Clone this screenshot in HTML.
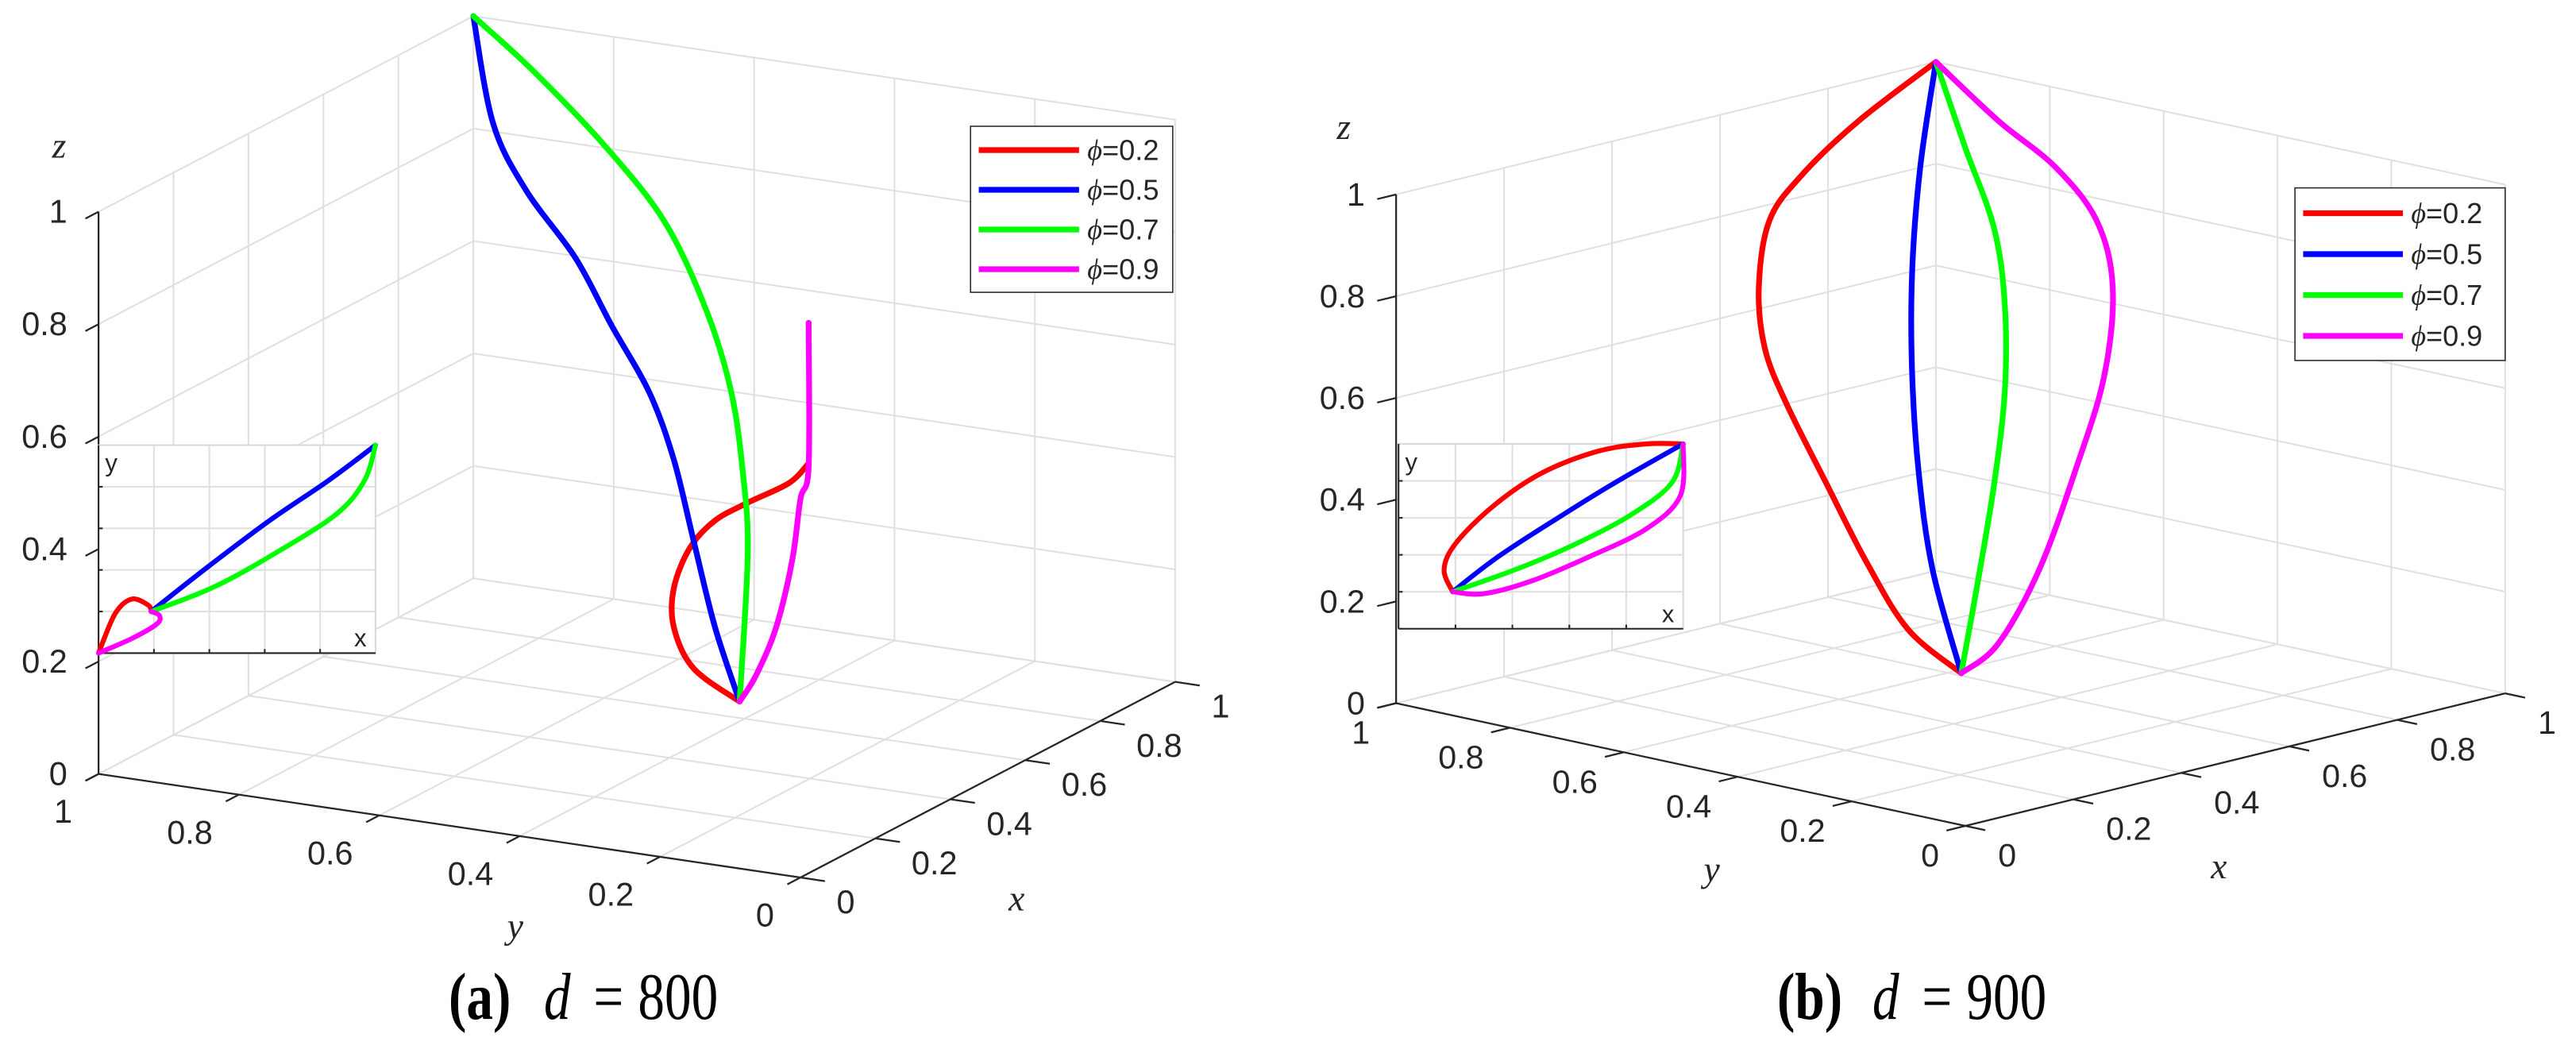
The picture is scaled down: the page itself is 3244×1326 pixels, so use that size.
<!DOCTYPE html>
<html><head><meta charset="utf-8"><style>
html,body{margin:0;padding:0;background:#fff}
svg{display:block}
text{font-family:"Liberation Sans",sans-serif;fill:#262626}
</style></head><body>
<svg id="fig" width="3244" height="1326" viewBox="0 0 3244 1326" xmlns="http://www.w3.org/2000/svg"></svg>
<script>
// ---------- data ----------
const tickVals=[0,0.2,0.4,0.6,0.8,1];
const tickLabels=["0","0.2","0.4","0.6","0.8","1"];
const seriesNames=["\u03d5=0.2","\u03d5=0.5","\u03d5=0.7","\u03d5=0.9"];
const seriesColors=["#ff0000","#0000ff","#00ff00","#ff00ff"];
// panel (a) d=800  3D curves
const aRedX=[-0.025,0.035,0.161,0.261,0.337,0.387,0.387,0.327,0.186];
const aRedY=[-0.025,0.035,0.161,0.261,0.337,0.387,0.387,0.327,0.186];
const aRedZ=[0.75,0.683,0.581,0.496,0.408,0.309,0.239,0.198,0.214];
const aBlueX=[1,0.94,0.839,0.688,0.578,0.462,0.387,0.327,0.261,0.186];
const aBlueY=[1,0.94,0.839,0.688,0.578,0.462,0.387,0.327,0.261,0.186];
const aBlueZ=[1,0.842,0.776,0.736,0.675,0.617,0.537,0.426,0.306,0.214];
const aGreenX=[1,0.814,0.588,0.412,0.286,0.211,0.176,0.161,0.186];
const aGreenY=[1,0.814,0.588,0.412,0.286,0.211,0.176,0.161,0.186];
const aGreenZ=[1,1.0,0.982,0.944,0.854,0.75,0.626,0.49,0.214];
const aMagX=[-0.025,-0.025,0,0.025,0.075,0.136,0.186];
const aMagY=[-0.025,-0.025,0,0.025,0.075,0.136,0.186];
const aMagZ=[1,0.744,0.673,0.551,0.404,0.287,0.214];
// panel (b) d=900 3D curves
const bRedX=[1,0.847,0.718,0.623,0.517,0.435,0.375,0.295,0.216,0.156,0.14];
const bRedY=[1,0.99,0.968,0.935,0.853,0.765,0.671,0.525,0.378,0.248,0.14];
const bRedZ=[1,0.927,0.859,0.802,0.718,0.642,0.573,0.472,0.37,0.285,0.23];
const bBlueX=[1,0.835,0.681,0.537,0.396,0.264,0.14];
const bBlueY=[1,0.871,0.739,0.603,0.458,0.308,0.14];
const bBlueZ=[1,0.868,0.74,0.615,0.487,0.361,0.23];
const bGreenX=[1,0.903,0.813,0.715,0.589,0.444,0.284,0.14];
const bGreenY=[1,0.857,0.721,0.609,0.489,0.37,0.248,0.14];
const bGreenZ=[1,0.893,0.791,0.697,0.587,0.47,0.342,0.23];
const bMagX=[1,0.971,0.954,0.914,0.832,0.696,0.537,0.358,0.214,0.14];
const bMagY=[1,0.863,0.746,0.636,0.53,0.416,0.315,0.21,0.146,0.14];
const bMagZ=[1,0.925,0.866,0.798,0.714,0.603,0.486,0.359,0.266,0.23];
// insets (normalized x,y)
const aInRedX=[0,0.06,0.12,0.18,0.19];
const aInRedY=[0,0.19,0.26,0.23,0.2];
const aInBlueX=[0.19,0.39,0.62,0.83,1];
const aInBlueY=[0.2,0.41,0.64,0.83,1];
const aInGreenX=[0.19,0.42,0.65,0.86,0.96,1];
const aInGreenY=[0.2,0.32,0.49,0.67,0.83,1];
const aInMagX=[0,0.12,0.21,0.22,0.19];
const aInMagY=[0,0.07,0.14,0.18,0.2];
const bInRedX=[0.19,0.16,0.2,0.33,0.5,0.7,0.87,1];
const bInRedY=[0.2,0.32,0.46,0.66,0.84,0.96,1,1];
const bInBlueX=[0.19,0.35,0.55,0.76,1];
const bInBlueY=[0.2,0.39,0.59,0.79,1];
const bInGreenX=[0.19,0.41,0.61,0.81,0.96,1];
const bInGreenY=[0.2,0.32,0.45,0.61,0.79,1];
const bInMagX=[0.19,0.3,0.47,0.67,0.87,0.99,1];
const bInMagY=[0.2,0.19,0.26,0.39,0.54,0.72,1];

// ---------- drawing ----------
const NS="http://www.w3.org/2000/svg";
const svg=document.getElementById('fig');
function mk(tag,attrs,parent){const e=document.createElementNS(NS,tag);for(const k in attrs)e.setAttribute(k,attrs[k]);(parent||svg).appendChild(e);return e;}
function smoothPath(pts){
  let d="M"+pts[0][0].toFixed(1)+","+pts[0][1].toFixed(1);
  for(let i=0;i<pts.length-1;i++){
    const p0=pts[Math.max(0,i-1)],p1=pts[i],p2=pts[i+1],p3=pts[Math.min(pts.length-1,i+2)];
    const c1=[p1[0]+(p2[0]-p0[0])/6,p1[1]+(p2[1]-p0[1])/6];
    const c2=[p2[0]-(p3[0]-p1[0])/6,p2[1]-(p3[1]-p1[1])/6];
    d+=" C"+c1[0].toFixed(1)+","+c1[1].toFixed(1)+" "+c2[0].toFixed(1)+","+c2[1].toFixed(1)+" "+p2[0].toFixed(1)+","+p2[1].toFixed(1);
  }
  return d;
}

function drawPanel(P){
  const g=mk('g',{transform:P.transform});
  
  
  const pr=(x,y,z)=>[P.ox+x*P.ex[0]+y*P.ey[0], P.oy+x*P.ex[1]+y*P.ey[1]+z*P.ez];
  const line=(a,b,attrs,name)=>{const p=pr(...a),q=pr(...b);const l=mk('line',Object.assign({x1:p[0],y1:p[1],x2:q[0],y2:q[1]},attrs),g);return l;};
  const grid={stroke:'#e0e0e0','stroke-width':2};
  tickVals.forEach(v=>{
    line([v,0,0],[v,1,0],grid,'floor-gridline');
    line([0,v,0],[1,v,0],grid,'floor-gridline');
    line([v,1,0],[v,1,1],grid,'wall-gridline');
    line([0,1,v],[1,1,v],grid,'wall-gridline');
    line([1,v,0],[1,v,1],grid,'wall-gridline');
    line([1,0,v],[1,1,v],grid,'wall-gridline');
  });
  const ax={stroke:'#262626','stroke-width':2.2};
  line([0,1,0],[0,1,1],ax,'z-axis-line');
  line([0,0,0],[0,1,0],ax,'y-axis-line');
  line([0,0,0],[1,0,0],ax,'x-axis-line');
  tickVals.forEach((v,i)=>{
    line([0,1,v],[-0.035,1,v],ax,'z-tick');
    line([0,v,0],[-0.035,v,0],ax,'y-tick');
    line([v,0,0],[v,-0.035,0],ax,'x-tick');
    let p=pr(0,1,v);
    let t=mk('text',{x:p[0]-38,y:p[1],'font-size':40,'text-anchor':'end','dominant-baseline':'central'},g);t.textContent=tickLabels[i];
    
    p=pr(0,v,0);
    t=mk('text',{x:p[0]+P.yOff[0],y:p[1]+P.yOff[1],'font-size':40,'text-anchor':'end','dominant-baseline':'central'},g);t.textContent=tickLabels[i];
    
    p=pr(v,0,0);
    t=mk('text',{x:p[0]+P.xOff[0],y:p[1]+P.xOff[1],'font-size':40,'text-anchor':'start','dominant-baseline':'central'},g);t.textContent=tickLabels[i];
    
  });
  [['z',P.zl,'z-axis-title'],['y',P.yl,'y-axis-title'],['x',P.xl,'x-axis-title']].forEach(a=>{
    const t=mk('text',{x:a[1][0],y:a[1][1],'font-size':44,'font-style':'italic','text-anchor':'middle','style':'font-family:"Liberation Serif",serif'},g);t.textContent=a[0];
    
  });
  // curves
  P.series.forEach((s,i)=>{
    const pts=s[0].map((x,k)=>pr(x,s[1][k],s[2][k]));
    const path=mk('path',{d:smoothPath(pts),fill:'none',stroke:seriesColors[i],'stroke-width':7,'stroke-linejoin':'round','stroke-linecap':'round'},g);
    
    
  });
  // inset
  const I=P.inset;
  const ig=mk('g',{},g);
  
  
  mk('rect',{x:I.x,y:I.y,width:I.w,height:I.h,fill:'#fff',stroke:'#d8d8d8','stroke-width':2},ig);
  const ip=(u,v)=>[I.x+u*I.w, I.y+I.h-v*I.h];
  [0.2,0.4,0.6,0.8].forEach(v=>{
    mk('line',{x1:I.x+v*I.w,y1:I.y,x2:I.x+v*I.w,y2:I.y+I.h,stroke:'#e0e0e0','stroke-width':2},ig);
    mk('line',{x1:I.x,y1:I.y+I.h-v*I.h,x2:I.x+I.w,y2:I.y+I.h-v*I.h,stroke:'#e0e0e0','stroke-width':2},ig);
    mk('line',{x1:I.x+v*I.w,y1:I.y+I.h,x2:I.x+v*I.w,y2:I.y+I.h-5,stroke:'#262626','stroke-width':2},ig);
    mk('line',{x1:I.x,y1:I.y+I.h-v*I.h,x2:I.x+5,y2:I.y+I.h-v*I.h,stroke:'#262626','stroke-width':2},ig);
  });
  mk('line',{x1:I.x,y1:I.y,x2:I.x,y2:I.y+I.h,stroke:'#262626','stroke-width':2},ig);
  mk('line',{x1:I.x,y1:I.y+I.h,x2:I.x+I.w,y2:I.y+I.h,stroke:'#262626','stroke-width':2},ig);
  let t=mk('text',{x:I.x+8,y:I.y+32,'font-size':30},ig);t.textContent='y';
  
  t=mk('text',{x:I.x+I.w-26,y:I.y+I.h-8,'font-size':30},ig);t.textContent='x';
  
  I.series.forEach((s,i)=>{
    const pts=s[0].map((u,k)=>ip(u,s[1][k]));
    const path=mk('path',{d:smoothPath(pts),fill:'none',stroke:seriesColors[i],'stroke-width':6,'stroke-linejoin':'round','stroke-linecap':'round'},ig);
    
    
  });
  // legend
  const L=P.legend;
  const lg=mk('g',{},g);
  
  
  mk('rect',{x:L.x,y:L.y,width:L.w,height:L.h,fill:'#fff',stroke:'#262626','stroke-width':1.5},lg);
  seriesNames.forEach((n,i)=>{
    const yy=L.y+L.row0+i*L.dy;
    const ln=mk('line',{x1:L.x+10,y1:yy,x2:L.x+132,y2:yy,stroke:seriesColors[i],'stroke-width':7},lg);
    
    const tt=mk('text',{x:L.x+142,y:yy,'font-size':35,'dominant-baseline':'central'},lg);
    tt.innerHTML='<tspan font-style="italic" style="font-family:\'Liberation Serif\',serif">\u03d5</tspan>'+n.slice(1);
    
  });
}
function caption(x0,letter,dval){
  const c=mk('text',{transform:'translate('+x0+',1283) scale(0.8,1)','font-size':84,'style':'font-family:"Liberation Serif",serif;fill:#000'});
  c.innerHTML='<tspan x="0" font-weight="bold">('+letter+')</tspan><tspan x="150" font-style="italic">d</tspan><tspan x="228">=</tspan><tspan x="298">'+dval+'</tspan>';
  
}

drawPanel({name:'panel-a-d800',transform:'translate(1008,1105) scale(1.035) translate(-974,-1066)',
  ox:974,oy:1066,ex:[456,-238],ey:[-854,-126],ez:-684,
  yOff:[-32,46],xOff:[44,30],zl:[72,190],yl:[627,1140],xl:[1237,1106],
  series:[[aRedX,aRedY,aRedZ],[aBlueX,aBlueY,aBlueZ],[aGreenX,aGreenY,aGreenZ],[aMagX,aMagY,aMagZ]],
  inset:{x:120,y:540,w:337,h:253,series:[[aInRedX,aInRedY],[aInBlueX,aInBlueY],[aInGreenX,aInGreenY],[aInMagX,aInMagY]]},
  legend:{x:1181,y:152,w:246,h:202,row0:29,dy:48.3}});
drawPanel({name:'panel-b-d900',transform:'translate(2475,1040) scale(1.03) translate(-2450,-1010)',
  ox:2450,oy:1010,ex:[660,-162],ey:[-696,-150],ez:-622,
  yOff:[-32,36],xOff:[40,36],zl:[1690,170],yl:[2140,1078],xl:[2760,1074],
  series:[[bRedX,bRedY,bRedZ],[bBlueX,bBlueY,bBlueZ],[bGreenX,bGreenY,bGreenZ],[bMagX,bMagY,bMagZ]],
  inset:{x:1757,y:543,w:348,h:226,series:[[bInRedX,bInRedY],[bInBlueX,bInBlueY],[bInGreenX,bInGreenY],[bInMagX,bInMagY]]},
  legend:{x:2853,y:230,w:257,h:211,row0:31,dy:50}});
caption(565,'a','800');
caption(2238,'b','900');
</script>
</body></html>
